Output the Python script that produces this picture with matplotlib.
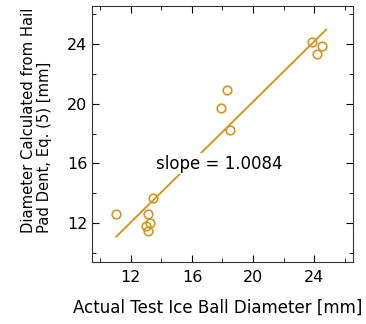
import numpy as np
import matplotlib.pyplot as plt
from matplotlib.ticker import MultipleLocator

plt.rcParams['font.family'] = ['DejaVu Sans']

# measured vs calculated hail diameters (mm)
actual = [11.04, 13.15, 13.22, 12.98, 13.15, 13.46, 17.92, 18.27, 18.47, 23.89, 24.17, 24.54]
calculated = [12.62, 12.62, 12.0, 11.84, 11.5, 13.69, 19.74, 20.9, 18.24, 24.11, 23.33, 23.88]
fit_x = [11.04, 24.79]
slope = 1.0084
intercept = 11.1 - slope * 11.04

color = "#D4951F"

fig = plt.figure(figsize=(3.66, 3.24), dpi=100)
ax = fig.add_axes([92 / 366, 1 - 262 / 324, 261 / 366, 256 / 324])

fx = np.array(fit_x)
ax.plot(fx, slope * fx + intercept, color=color, lw=1.4, zorder=1)
ax.plot(actual, calculated, "o", mfc="none", mec=color, mew=1.2, ms=6.2, zorder=3)
ax.text(13.66, 15.98, "slope = 1.0084", fontsize=12, va="center", ha="left",
        bbox=dict(facecolor="white", edgecolor="none", pad=1), zorder=2)

ax.set_xlim(9.45, 26.55)
ax.set_ylim(9.4, 26.55)
ax.xaxis.set_major_locator(MultipleLocator(4))
ax.xaxis.set_minor_locator(MultipleLocator(2))
ax.yaxis.set_major_locator(MultipleLocator(4))
ax.yaxis.set_minor_locator(MultipleLocator(2))
ax.tick_params(which="both", direction="in", top=True, right=True, labelsize=11.5)
ax.tick_params(which="major", length=5)
ax.tick_params(which="minor", length=3)
ax.tick_params(axis="x", pad=6)
for s in ax.spines.values():
    s.set_color("#333333")

ax.set_xlabel("Actual Test Ice Ball Diameter [mm]", fontsize=12, va="top")
ax.xaxis.set_label_coords(0.481, -0.145)
ax.set_ylabel("Diameter Calculated from Hail\nPad Dent, Eq. (5) [mm]", fontsize=10.6,
              multialignment="left", linespacing=1.05)
ax.yaxis.set_label_coords(-0.153, 0.555)

fig.savefig("out.png", dpi=100)
